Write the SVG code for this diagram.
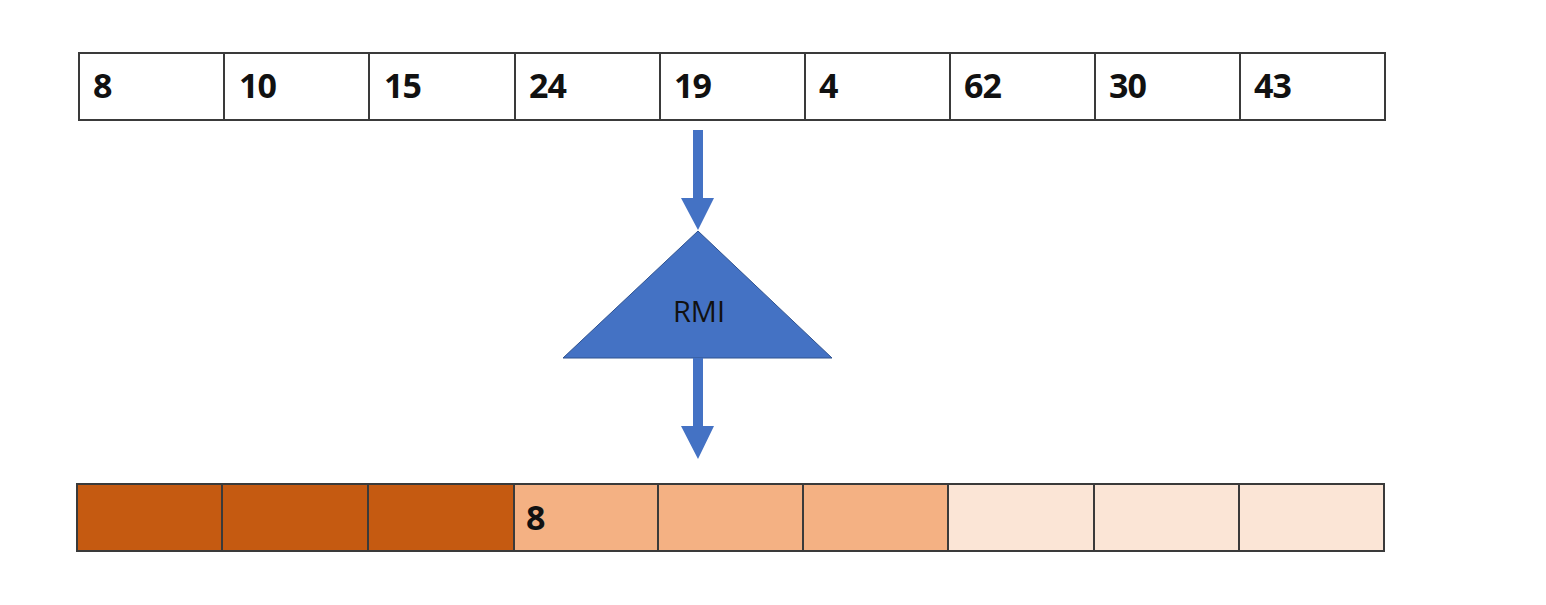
<svg xmlns="http://www.w3.org/2000/svg" width="1546" height="605" viewBox="0 0 1546 605">
<style>
.cell{stroke:#3a3a3a;stroke-width:2}
.top{fill:#ffffff}
.dark{fill:#C55A11}
.mid{fill:#F4B183}
.light{fill:#FBE5D6}
.num{font-family:"Open Sans","Liberation Sans",sans-serif;font-weight:bold;font-size:34px;fill:#111;letter-spacing:-1px}
.lbl{font-family:"Open Sans","Liberation Sans",sans-serif;font-size:29px;fill:#111}
.arrow{fill:#4472C4}
</style>
<rect width="1546" height="605" fill="#ffffff"/>
<g id="input-array">
<rect class="cell top" x="79" y="53" width="145" height="67"/>
<rect class="cell top" x="224" y="53" width="145" height="67"/>
<rect class="cell top" x="369" y="53" width="146" height="67"/>
<rect class="cell top" x="515" y="53" width="145" height="67"/>
<rect class="cell top" x="660" y="53" width="145" height="67"/>
<rect class="cell top" x="805" y="53" width="145" height="67"/>
<rect class="cell top" x="950" y="53" width="145" height="67"/>
<rect class="cell top" x="1095" y="53" width="145" height="67"/>
<rect class="cell top" x="1240" y="53" width="145" height="67"/>
<text class="num" x="93" y="98">8</text>
<text class="num" x="239" y="98">10</text>
<text class="num" x="384" y="98">15</text>
<text class="num" x="529" y="98">24</text>
<text class="num" x="674" y="98">19</text>
<text class="num" x="819" y="98">4</text>
<text class="num" x="964" y="98">62</text>
<text class="num" x="1109" y="98">30</text>
<text class="num" x="1254" y="98">43</text>
</g>
<g id="rmi">
<polygon points="698,231 563,358 832,358" fill="#4472C4" stroke="#2F528F" stroke-width="1"/>
<text class="lbl" x="699" y="322" text-anchor="middle">RMI</text>
</g>
<g id="output-array">
<rect class="cell dark" x="77" y="484" width="145" height="67"/>
<rect class="cell dark" x="222" y="484" width="146" height="67"/>
<rect class="cell dark" x="368" y="484" width="146" height="67"/>
<rect class="cell mid" x="514" y="484" width="144" height="67"/>
<rect class="cell mid" x="658" y="484" width="145" height="67"/>
<rect class="cell mid" x="803" y="484" width="145" height="67"/>
<rect class="cell light" x="948" y="484" width="146" height="67"/>
<rect class="cell light" x="1094" y="484" width="145" height="67"/>
<rect class="cell light" x="1239" y="484" width="145" height="67"/>
<text class="num" x="526" y="530">8</text>
</g>
<g id="connectors">
<polygon class="arrow" points="693,130 703,130 703,198 714,198 698,230 681,198 693,198"/>
<polygon class="arrow" points="693,358 703,358 703,426 714,426 698,459 681,426 693,426"/>
</g>
</svg>
